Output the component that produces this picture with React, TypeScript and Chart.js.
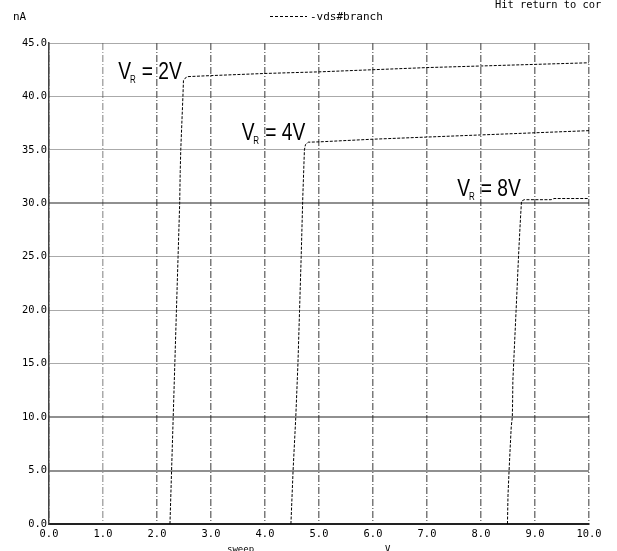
import { useEffect, useRef } from 'react';
import { Chart, registerables } from 'chart.js';

Chart.register(...registerables);

// ---- data (sweep voltage V, current nA) ----
const vr2X = [2.24, 2.27, 2.30, 2.33, 2.36, 2.39, 2.42, 2.43, 2.44, 2.46, 2.48, 2.49, 2.55, 3.0, 4.0, 5.0, 6.0, 7.0, 8.0, 9.0, 10.0];
const vr2Y = [0, 5, 10, 15, 20, 25, 30, 33, 35, 37.5, 40, 41.5, 41.85, 41.95, 42.15, 42.3, 42.5, 42.7, 42.85, 43.0, 43.15];

const vr4X = [4.48, 4.52, 4.57, 4.61, 4.64, 4.67, 4.70, 4.73, 4.75, 4.8, 5.0, 6.0, 7.0, 8.0, 9.0, 10.0];
const vr4Y = [0, 5, 10, 15, 20, 25, 30.6, 35.0, 35.5, 35.72, 35.75, 36.0, 36.2, 36.4, 36.6, 36.8];

const vr8X = [8.49, 8.50, 8.52, 8.54, 8.56, 8.58, 8.585, 8.59, 8.65, 8.70, 8.73, 8.75, 8.8, 9.3, 9.35, 10.0];
const vr8Y = [0, 2.7, 5, 7.1, 9.1, 10, 11.3, 13.4, 20, 25.6, 28.5, 30.2, 30.34, 30.34, 30.45, 30.45];

const seriesLabels = ['V_R = 2V', 'V_R = 4V', 'V_R = 8V'];
const yUnit = 'nA';
const legendText = '-vds#branch';
const statusText = 'Hit return to cor';
const xTitle = 'sweep';
const xUnit = 'V';

// curve annotations (anchored in data units)
const annotations = [
  { base: 'V', sub: 'R', rest: '= 2V', x: 1.283, y: 41.63 },
  { base: 'V', sub: 'R', rest: '= 4V', x: 3.568, y: 35.95 },
  { base: 'V', sub: 'R', rest: '= 8V', x: 7.561, y: 30.65 },
];

const boldYLines = [5, 10, 30];

const toPoints = (xs: number[], ys: number[]) => xs.map((x, i) => ({ x, y: ys[i] }));

const MONO = '"DejaVu Sans Mono", monospace';

const textPlugin = {
  id: 'spiceTexts',
  afterDraw(chart: any) {
    const ctx = chart.ctx as CanvasRenderingContext2D;
    const xs = chart.scales.x;
    const ys = chart.scales.y;
    ctx.save();
    ctx.fillStyle = '#000';
    ctx.textAlign = 'left';
    ctx.textBaseline = 'alphabetic';
    ctx.font = '11px ' + MONO;
    ctx.fillText(yUnit, 13, 19.5);
    // legend sample
    ctx.strokeStyle = '#000';
    ctx.lineWidth = 1;
    ctx.setLineDash([3, 2]);
    ctx.beginPath();
    ctx.moveTo(270, 16.5);
    ctx.lineTo(307, 16.5);
    ctx.stroke();
    ctx.setLineDash([]);
    ctx.fillText(legendText, 310, 19.5);
    ctx.font = '10.4px ' + MONO;
    ctx.fillText(statusText, 495, 7.5);
    ctx.font = '9px ' + MONO;
    ctx.fillText(xTitle, 227, 551.5);
    ctx.fillText(xUnit, 385, 551.5);

    for (const a of annotations) {
      const px = xs.getPixelForValue(a.x);
      const py = ys.getPixelForValue(a.y);
      ctx.save();
      ctx.translate(px, py);
      ctx.scale(0.8, 1);
      ctx.font = '24px "Liberation Sans", Arial, sans-serif';
      ctx.fillText(a.base, 0, 0);
      ctx.font = '10px "Liberation Sans", Arial, sans-serif';
      ctx.fillText(a.sub, 11.7 / 0.8, 4);
      ctx.font = '24px "Liberation Sans", Arial, sans-serif';
      ctx.fillText(a.rest, 23.5 / 0.8, 0);
      ctx.restore();
    }
    ctx.restore();
  },
};

export default function App() {
  const ref = useRef<HTMLCanvasElement>(null);

  useEffect(() => {
    if (!ref.current) return;
    const lineStyle = {
      borderColor: '#000',
      borderWidth: 1,
      borderDash: [3, 1.5],
      pointRadius: 0,
      tension: 0,
      fill: false,
    };
    const chart = new Chart(ref.current, {
      type: 'line',
      data: {
        datasets: [
          { label: seriesLabels[0], data: toPoints(vr2X, vr2Y), ...lineStyle },
          { label: seriesLabels[1], data: toPoints(vr4X, vr4Y), ...lineStyle },
          { label: seriesLabels[2], data: toPoints(vr8X, vr8Y), ...lineStyle },
        ],
      },
      options: {
        animation: false,
        responsive: false,
        devicePixelRatio: 1,
        layout: { padding: { left: 0, right: 28, top: 43, bottom: 0 } },
        plugins: { legend: { display: false }, tooltip: { enabled: false }, title: { display: false } },
        scales: {
          x: {
            type: 'linear',
            min: 0,
            max: 10,
            afterFit: (s: any) => { s.height = 27; },
            ticks: {
              stepSize: 1,
              padding: 4,
              maxRotation: 0,
              color: '#000',
              font: { family: 'DejaVu Sans Mono', size: 10.4 },
              callback: (v: any) => Number(v).toFixed(1),
            },
            grid: {
              drawTicks: false,
              lineWidth: 1.5,
              color: (c: any) => (c.tick && c.tick.value === 1 ? '#aaaaaa' : '#7a7a7a'),
            },
            border: { display: true, color: '#222', width: 2, dash: [7, 2, 1, 2] },
          },
          y: {
            type: 'linear',
            min: 0,
            max: 45,
            afterFit: (s: any) => { s.width = 49; },
            ticks: {
              stepSize: 5,
              padding: 2,
              color: '#000',
              font: { family: 'DejaVu Sans Mono', size: 10.4 },
              callback: (v: any) => Number(v).toFixed(1),
            },
            grid: {
              drawTicks: false,
              lineWidth: (c: any) => (c.tick && boldYLines.includes(c.tick.value) ? 2 : 1),
              color: (c: any) => (c.tick && boldYLines.includes(c.tick.value) ? '#222' : '#555'),
            },
            border: { display: true, color: '#444', width: 1.5, dash: [1, 1] },
          },
        },
      },
      plugins: [textPlugin],
    });
    return () => chart.destroy();
  }, []);

  return (
    <div style={{ position: 'absolute', left: 0, top: 0, width: 617, height: 551, background: '#fff' }}>
      <canvas ref={ref} width={617} height={551} style={{ width: 617, height: 551, display: 'block' }} />
    </div>
  );
}
